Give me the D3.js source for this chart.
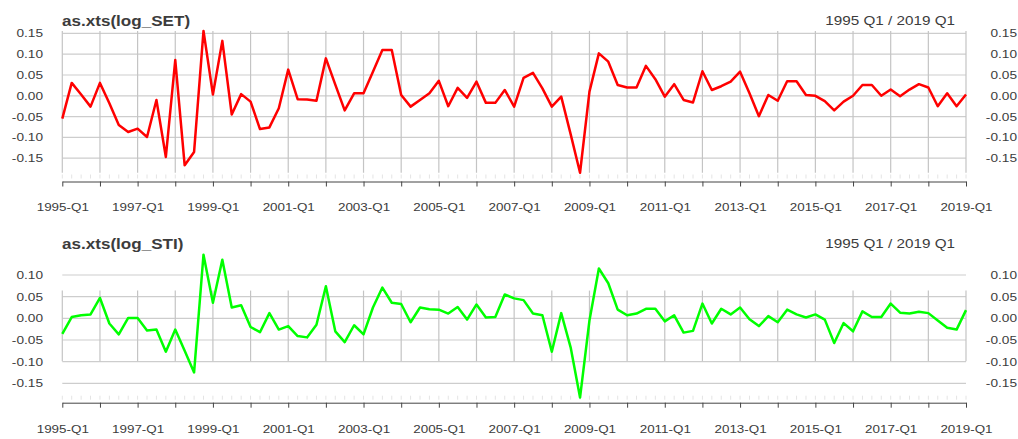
<!DOCTYPE html>
<html>
<head>
<meta charset="utf-8">
<script src="https://cdn.jsdelivr.net/npm/d3@7"></script>
<style>
  body { margin: 0; background: #fff; }
  text { font-family: "Liberation Sans", Arial, sans-serif; fill: #3c3c3c; }
</style>
</head>
<body>
<svg id="chart" width="1018" height="439"></svg>
<script>
/*
    two stacked xts-style quarterly panels: log returns of SET and STI
*/
var quarters = d3.range(97).map(function(i) {
  return (1995 + Math.floor(i / 4)) + '-Q' + (i % 4 + 1);
});
var yearTicks = d3.range(1995, 2020);
var labelYears = [1995, 1997, 1999, 2001, 2003, 2005, 2007, 2009, 2011, 2013, 2015, 2017, 2019];
var rangeLabel = '1995 Q1 / 2019 Q1';

var logSET = [
  -0.055, 0.031, 0.003, -0.026, 0.031, -0.018, -0.070, -0.087, -0.079, -0.099,
  -0.010, -0.147, 0.086, -0.167, -0.135, 0.156, 0.003, 0.132, -0.045, 0.004,
  -0.014, -0.080, -0.076, -0.030, 0.063, -0.008, -0.009, -0.012, 0.090, 0.027,
  -0.035, 0.006, 0.006, 0.058, 0.110, 0.110, 0.002, -0.026, -0.010, 0.006,
  0.036, -0.025, 0.019, -0.005, 0.034, -0.017, -0.017, 0.014, -0.026, 0.043,
  0.055, 0.018, -0.026, -0.002, -0.092, -0.185, 0.010, 0.102, 0.082, 0.026,
  0.020, 0.020, 0.072, 0.040, -0.002, 0.028, -0.010, -0.016, 0.059, 0.014,
  0.023, 0.034, 0.058, 0.006, -0.049, 0.002, -0.012, 0.035, 0.035, 0.002,
  0.000, -0.013, -0.035, -0.014, 0.000, 0.026, 0.026, 0.000, 0.015, -0.001,
  0.015, 0.028, 0.020, -0.025, 0.006, -0.025, 0.003
];
var logSTI = [
  -0.036, 0.003, 0.007, 0.009, 0.047, -0.012, -0.037, 0.001, 0.001, -0.028,
  -0.026, -0.077, -0.026, -0.075, -0.125, 0.147, 0.036, 0.135, 0.025, 0.030,
  -0.020, -0.032, 0.012, -0.026, -0.018, -0.041, -0.044, -0.015, 0.074, -0.030,
  -0.055, -0.016, -0.037, 0.025, 0.071, 0.036, 0.033, -0.009, 0.025, 0.021,
  0.020, 0.011, 0.026, -0.003, 0.032, 0.002, 0.003, 0.055, 0.046, 0.042,
  0.011, 0.007, -0.077, 0.012, -0.067, -0.183, -0.005, 0.115, 0.081, 0.020,
  0.007, 0.011, 0.022, 0.022, -0.007, 0.007, -0.033, -0.029, 0.034, -0.012,
  0.022, 0.009, 0.025, -0.002, -0.018, 0.005, -0.009, 0.020, 0.009, 0.002,
  0.009, -0.003, -0.057, -0.011, -0.030, 0.016, 0.003, 0.003, 0.034, 0.013,
  0.011, 0.015, 0.012, -0.005, -0.022, -0.026, 0.019
];
var yTicksSET = [-0.15, -0.10, -0.05, 0.00, 0.05, 0.10, 0.15];
var yTicksSTI = [-0.15, -0.10, -0.05, 0.00, 0.05, 0.10];

// hyphen minus like R, not the unicode one
var fmt = d3.formatLocale({decimal: '.', thousands: ',', grouping: [3], currency: ['', ''], minus: '-'}).format('.2f');
var sx = 1.22; // the picture is stretched sideways

var svg = d3.select('#chart');
var x = d3.scaleLinear().domain([0, quarters.length - 1]).range([62.3, 966]);

var panel = function(cfg) {
  var y = d3.scaleLinear().domain(cfg.domain).range(cfg.range);
  var g = svg.append('g');

  //horizontal grid
  g.append('g').selectAll('line')
    .data(cfg.ticks)
    .join('line')
      .attr('x1', x(0)).attr('x2', x(quarters.length - 1))
      .attr('y1', function(d) { return y(d); })
      .attr('y2', function(d) { return y(d); })
      .attr('stroke', '#cdcdcd').attr('stroke-width', 1.2);

  //vertical grid, one per year
  g.append('g').selectAll('line')
    .data(yearTicks)
    .join('line')
      .attr('x1', function(d) { return x((d - 1995) * 4); })
      .attr('x2', function(d) { return x((d - 1995) * 4); })
      .attr('y1', y(cfg.vspan[1])).attr('y2', y(cfg.vspan[0]))
      .attr('stroke', '#c4c4c4').attr('stroke-width', 1.2);

  //quarterly minor ticks
  g.append('g').selectAll('line')
    .data(quarters)
    .join('line')
      .attr('x1', function(d, i) { return x(i); })
      .attr('x2', function(d, i) { return x(i); })
      .attr('y1', cfg.axisY - 7).attr('y2', cfg.axisY - 3)
      .attr('stroke', '#e4e4e4').attr('stroke-width', 1);

  //x axis
  g.append('g')
    .attr('transform', 'translate(0,' + cfg.axisY + ')')
    .call(d3.axisBottom(x)
      .tickValues(yearTicks.map(function(d) { return (d - 1995) * 4; }))
      .tickSize(5).tickSizeOuter(0).tickPadding(17)
      .tickFormat(function(d) {
        var yr = 1995 + d / 4;
        return labelYears.indexOf(yr) >= 0 ? quarters[d] : '';
      }))
    .call(function(a) {
      a.select('.domain').attr('stroke', '#444');
      a.selectAll('.tick line').attr('stroke', '#444');
      a.selectAll('text')
        .attr('font-size', 11).attr('fill', '#3c3c3c')
        .attr('transform', 'scale(' + sx + ',1)');
    });

  //y labels on both sides
  [[d3.axisLeft(y), 43], [d3.axisRight(y), 1017]].forEach(function(p) {
    g.append('g')
      .attr('transform', 'translate(' + p[1] + ',0)')
      .call(p[0].tickValues(cfg.ticks).tickSize(0).tickPadding(0).tickFormat(fmt))
      .call(function(a) {
        a.select('.domain').remove();
        a.selectAll('text')
          .attr('x', 0).attr('text-anchor', 'end')
          .attr('font-size', 11.2).attr('fill', '#3c3c3c')
          .attr('transform', 'scale(' + sx + ',1)');
      });
  });

  //series
  g.append('path')
    .datum(cfg.values)
    .attr('fill', 'none')
    .attr('stroke', cfg.color)
    .attr('stroke-width', 2.5)
    .attr('stroke-linejoin', 'round')
    .attr('d', d3.line()
      .x(function(d, i) { return x(i); })
      .y(function(d) { return y(d); }));

  //titles
  g.append('text')
    .attr('transform', 'translate(62,' + cfg.titleY + ') scale(' + sx + ',1)')
    .attr('font-size', 14).attr('font-weight', 'bold').attr('fill', '#222')
    .text(cfg.title);
  g.append('text')
    .attr('transform', 'translate(955,' + (cfg.titleY - 1.5) + ') scale(' + sx + ',1)')
    .attr('text-anchor', 'end')
    .attr('font-size', 12.5)
    .text(rangeLabel);
};

panel({
  title: 'as.xts(log_SET)', values: logSET, color: '#ff0000', ticks: yTicksSET,
  domain: [-0.15, 0.15], range: [158.2, 33.4], vspan: d3.extent(logSET),
  axisY: 181.5, titleY: 26
});
panel({
  title: 'as.xts(log_STI)', values: logSTI, color: '#00ff00', ticks: yTicksSTI,
  domain: [-0.15, 0.10], range: [383.3, 275], vspan: [-0.099, 0.064],
  axisY: 402.7, titleY: 249
});
</script>
</body>
</html>
